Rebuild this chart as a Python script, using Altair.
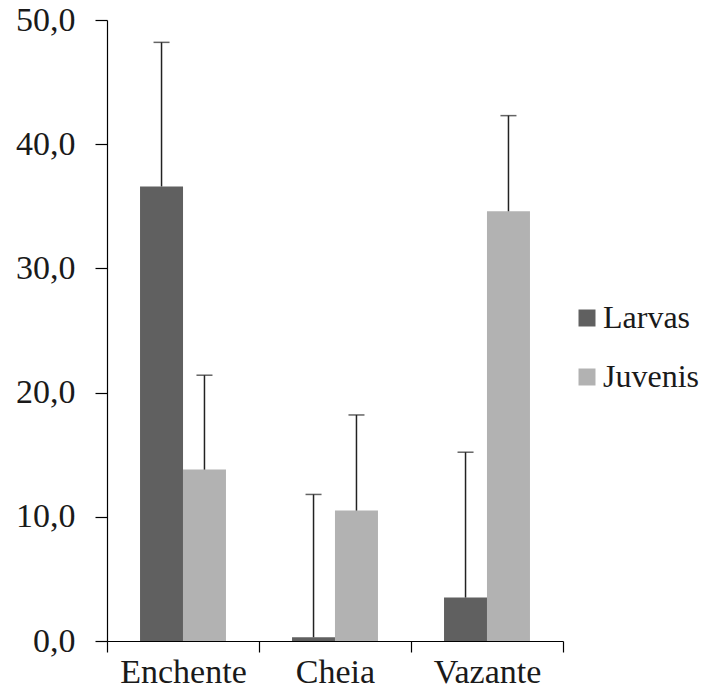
import altair as alt
import pandas as pd

categories = ["Enchente", "Cheia", "Vazante"]
series = ["Larvas", "Juvenis"]
larvas_mean = [36.6, 0.3, 3.5]
larvas_err = [11.6, 11.5, 11.7]
juvenis_mean = [13.8, 10.5, 34.6]
juvenis_err = [7.6, 7.7, 7.7]

rows = []
for i, c in enumerate(categories):
    rows.append({"cat": c, "serie": "Larvas", "mean": larvas_mean[i], "top": larvas_mean[i] + larvas_err[i]})
    rows.append({"cat": c, "serie": "Juvenis", "mean": juvenis_mean[i], "top": juvenis_mean[i] + juvenis_err[i]})
df = pd.DataFrame(rows)

FONT = "Liberation Serif, Times New Roman, serif"

x = alt.X("cat:N", sort=categories, title=None,
          scale=alt.Scale(paddingInner=0, paddingOuter=0),
          axis=alt.Axis(labelAngle=0, labelFont=FONT, labelFontSize=34, labelColor="#1a1a1a",
                        domainColor="#000", tickColor="#000", tickSize=11, tickBand="extent",
                        labelBaseline="alphabetic", labelPadding=30,
                        domainWidth=1.2, tickWidth=1.2))
xo = alt.XOffset("serie:N", sort=series,
                 scale=alt.Scale(paddingInner=0, paddingOuter=0.77))

base = alt.Chart(df)

bars = base.mark_bar(size=43).encode(
    x=x, xOffset=xo,
    y=alt.Y("mean:Q", title=None,
            scale=alt.Scale(domain=[0, 50], nice=False),
            axis=alt.Axis(values=[0, 10, 20, 30, 40, 50], grid=False,
                          labelExpr="replace(format(datum.value, '.1f'), '.', ',')",
                          labelFont=FONT, labelFontSize=34, labelColor="#1a1a1a",
                          domainColor="#000", tickColor="#000", tickSize=12,
                          labelPadding=20, domainWidth=1.2, tickWidth=1.2)),
    color=alt.Color("serie:N", sort=series,
                    scale=alt.Scale(domain=series, range=["#606060", "#b2b2b2"]),
                    legend=alt.Legend(title=None, orient="none", legendX=464, legendY=282,
                                      symbolType="square", symbolSize=289, symbolStrokeWidth=0,
                                      labelFont=FONT, labelFontSize=32, labelColor="#1a1a1a",
                                      rowPadding=27, labelOffset=0))
)

rules = base.mark_rule(color="#222", strokeWidth=1.5).encode(
    x=x, xOffset=xo, y="mean:Q", y2="top:Q"
)
caps = base.mark_tick(color="#222", thickness=1.5, size=16, orient="horizontal").encode(
    x=x, xOffset=xo, y="top:Q"
)

chart = alt.layer(bars, rules, caps).properties(
    width=456, height=621,
    autosize=alt.AutoSizeParams(type="none"),
    padding={"left": 99, "top": 12, "right": 138, "bottom": 49},
).configure(
    background="white", font=FONT
).configure_view(
    stroke=None, strokeWidth=0
)

chart.save("out.html", embed_options={"renderer": "svg", "actions": False})
